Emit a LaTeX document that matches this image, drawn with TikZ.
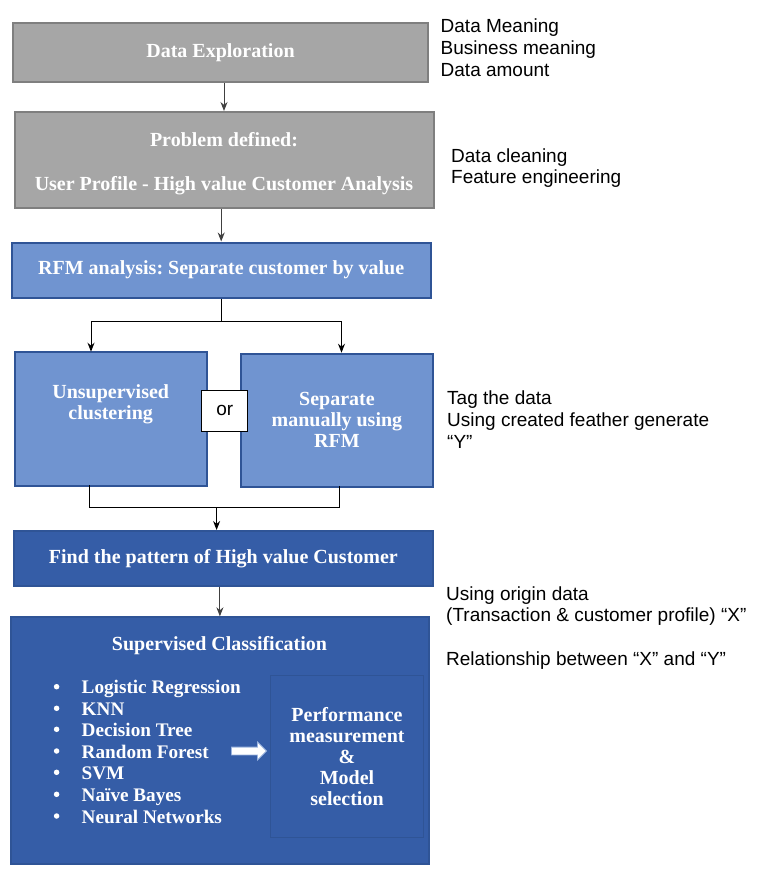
\documentclass[tikz,border=0pt]{standalone}
\usepackage{fontspec}
\setmainfont{Liberation Serif}
\newfontfamily\arialfont{Liberation Sans}
\usepackage{tikz}
\usetikzlibrary{positioning,shapes,arrows.meta}
\frenchspacing

\definecolor{grayfill}{HTML}{A6A6A6}
\definecolor{grayline}{HTML}{7F7F7F}
\definecolor{lightfill}{HTML}{7094D0}
\definecolor{blueline}{HTML}{2F5496}
\definecolor{darkfill}{HTML}{355DA7}
\definecolor{arrowgray}{HTML}{404040}

\begin{document}
\begin{tikzpicture}[
                x=1pt, y=-1pt,
                >={Stealth[length=9pt, width=7pt]},
                graybox/.style={rectangle, draw=grayline, fill=grayfill, line width=2pt, inner sep=0pt},
                lightbox/.style={rectangle, draw=blueline, fill=lightfill, line width=2pt, inner sep=0pt},
                darkbox/.style={rectangle, draw=blueline, fill=darkfill, line width=2pt, inner sep=0pt},
                boxtext/.style={text=white, font=\fontsize{20}{21}\selectfont\bfseries, align=center},
                item/.style={text=white, font=\fontsize{19.2}{21}\selectfont\bfseries, anchor=west, inner sep=0pt, text height=14pt, text depth=0pt},
                dot/.style={circle, fill=white, minimum size=5.5pt, inner sep=0pt},
                note/.style={anchor=west, align=left, inner sep=0pt, font=\arialfont\fontsize{19}{21.7}\selectfont},
                link/.style={draw=arrowgray, line width=1pt},
                branch/.style={draw=black, line width=1pt}
            ]
            \fill[white] (0,0) rectangle (757,875);
            \useasboundingbox (0,0) rectangle (757,875);

            \node[graybox, boxtext, minimum width=415pt, minimum height=59pt] (Exploration) at (220.5,52.3) {Data Exploration};
            \node[graybox, minimum width=419pt, minimum height=96pt] (Problem) at (224,160) {};
            \node[boxtext] (Problem_text) at (224,164) {Problem defined:\\[23pt]User Profile - High value Customer Analysis};
            \node[lightbox, boxtext, minimum width=419pt, minimum height=55pt] (RFM) at (221.2,270) {RFM analysis: Separate customer by value};

            \node[lightbox, minimum width=192pt, minimum height=134pt] (Unsupervised) at (110.7,418.5) {};
            \node[boxtext] (Unsupervised_text) at (110.7,404) {Unsupervised\\clustering};
            \node[lightbox, boxtext, minimum width=192pt, minimum height=133pt] (Separate) at (336.9,420) {Separate\\manually using\\RFM};
            \node[draw=black, fill=white, line width=1pt, minimum width=46pt, minimum height=41pt, font=\arialfont\fontsize{19}{21}\selectfont] (Or) at (224.7,410.7) {or};

            \node[darkbox, boxtext, minimum width=419pt, minimum height=55pt] (Pattern) at (223.4,558.5) {Find the pattern of High value Customer};

            \node[darkbox, minimum width=418pt, minimum height=247pt] (Supervised) at (219.9,740.8) {};
            \node[boxtext] (Supervised_title) at (219.5,645.5) {Supervised Classification};

            \node[dot] (LogReg_dot) at (56.6,686.7) {};
            \node[dot] (KNN_dot) at (56.6,708.3) {};
            \node[dot] (Tree_dot) at (56.6,729.3) {};
            \node[dot] (Forest_dot) at (56.6,751) {};
            \node[dot] (SVM_dot) at (56.6,772.3) {};
            \node[dot] (Bayes_dot) at (56.6,794.3) {};
            \node[dot] (Neural_dot) at (56.6,816) {};

            \node[item] (LogReg) at (81.5,686.7) {Logistic Regression};
            \node[item] (KNN) at (81.5,708.3) {KNN};
            \node[item] (Tree) at (81.5,729.3) {Decision Tree};
            \node[item] (Forest) at (81.5,751) {Random Forest};
            \node[item] (SVM) at (81.5,772.3) {SVM};
            \node[item] (Bayes) at (81.5,794.3) {Naïve Bayes};
            \node[item] (Neural) at (81.5,816) {Neural Networks};

            \node[single arrow, fill=white, draw=lightfill!70!white, line width=0.8pt, inner sep=3.5pt, minimum height=35pt, single arrow head extend=5pt] (Flow_arrow) at (247,751) {};

            \node[rectangle, draw=blueline, line width=1.5pt, boxtext, minimum width=153pt, minimum height=162pt] (Performance) at (347,756.5) {Performance\\measurement\\\&\\Model\\selection};

            \node[note] (Exploration_note) at (440.5,47.7) {Data Meaning\\Business meaning\\Data amount};
            \node[note] (Problem_note) at (451,168) {Data cleaning\\Feature engineering};
            \node[note] (Separate_note) at (447,419.5) {Tag the data\\Using created feather generate\\“Y”};
            \node[note] (Pattern_note) at (446,628) {Using origin data\\(Transaction \& customer profile) “X”\\[22pt]Relationship between “X” and “Y”};

            \coordinate (split) at (221.2,321.3);
            \coordinate (Unsupervised_in) at (91,351.7);
            \coordinate (Separate_in) at (341.5,352.7);
            \coordinate (Unsupervised_out) at (89.3,485.3);
            \coordinate (Separate_out) at (339,486);
            \coordinate (merge) at (216.6,507.3);

            \draw[link, ->] (Problem.north |- Exploration.south) -- (Problem.north);
            \draw[link, ->] (RFM.north |- Problem.south) -- (RFM.north);

            \draw[branch] (RFM.south) -- (split);
            \draw[branch, ->] (split) -| (Unsupervised_in);
            \draw[branch, ->] (split) -| (Separate_in);

            \draw[branch] (Unsupervised_out) |- (merge);
            \draw[branch] (Separate_out) |- (merge);
            \draw[branch, ->] (merge) -- (merge |- Pattern.north);

            \draw[link, ->] (Supervised.north |- Pattern.south) -- (Supervised.north);
        \end{tikzpicture}
\end{document}
